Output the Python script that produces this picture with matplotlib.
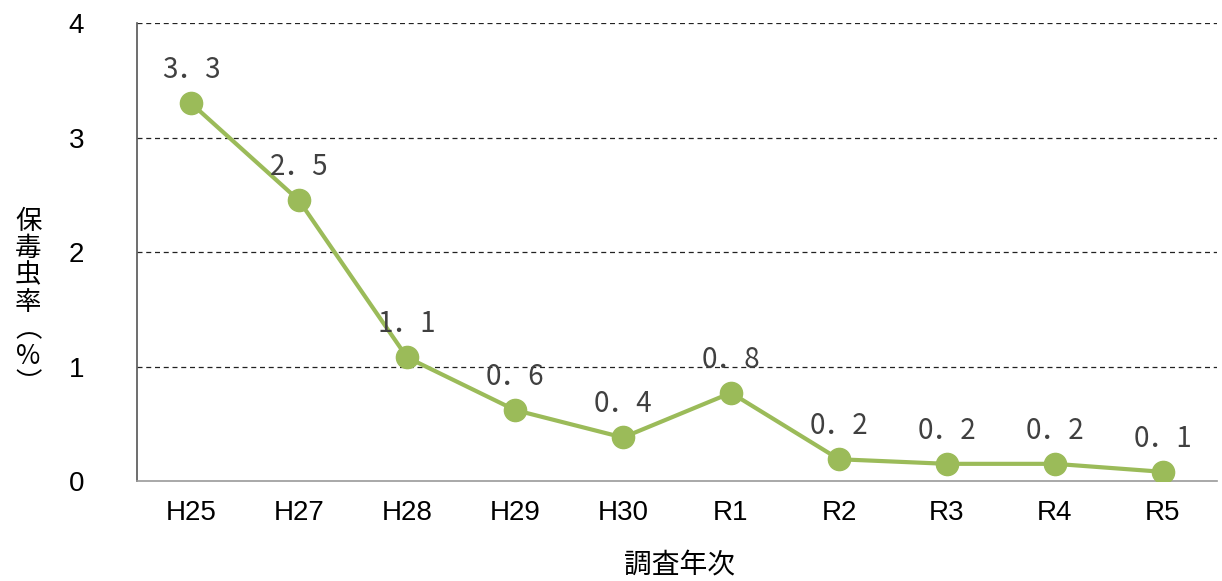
import matplotlib
matplotlib.use('Agg')
import matplotlib.pyplot as plt

# survey years and rates (%)
years = ['H25', 'H27', 'H28', 'H29', 'H30', 'R1', 'R2', 'R3', 'R4', 'R5']
rates = [3.30, 2.45, 1.08, 0.62, 0.38, 0.77, 0.19, 0.15, 0.15, 0.08]
point_labels = ['3．3', '2．5', '1．1', '0．6', '0．4', '0．8', '0．2', '0．2', '0．2', '0．1']
y_ticks = [0, 1, 2, 3, 4]

plt.rcParams['font.family'] = ['Liberation Sans', 'Noto Sans CJK JP', 'DejaVu Sans']
cjk = ['Noto Sans CJK JP', 'DejaVu Sans']

fig = plt.figure(figsize=(12.22, 5.81), dpi=100)
ax = fig.add_axes([0.1121, 0.1721, 0.8838, 0.7883])

x = list(range(len(years)))
ax.plot(x, rates, color='#9BBB59', lw=3, marker='o', markersize=16, zorder=3)

for xi, v, lab in zip(x, rates, point_labels):
    ax.annotate(lab, (xi, v), xytext=(0, 24), textcoords='offset points',
                ha='center', va='center', fontsize=20, color='#404040',
                family=cjk)

ax.set_xlim(-0.5, len(years) - 0.5)
ax.set_ylim(0, 4)
ax.set_yticks(y_ticks)
ax.set_xticks(x)
ax.set_xticklabels(years)
ax.tick_params(axis='both', length=0, labelsize=20, colors='black')
ax.tick_params(axis='y', pad=38)
ax.tick_params(axis='x', pad=14)

for g in y_ticks[1:]:
    ax.axhline(g, color='#222222', lw=0.9, ls=(0, (4, 3)), zorder=1)

for s in ['top', 'right']:
    ax.spines[s].set_visible(False)
ax.spines['left'].set_color('#555555')
ax.spines['bottom'].set_color('#999999')
ax.spines['left'].set_linewidth(1.2)
ax.spines['bottom'].set_linewidth(1.2)

fig.text(0.023, 0.48, '保\n毒\n虫\n率\n︵\n%\n︶', ha='center', va='center',
         fontsize=19, linespacing=1.0, family=cjk)
fig.text(0.556, 0.028, '調査年次', ha='center', va='center', fontsize=20,
         family=cjk)

plt.savefig('out.png', dpi=100, facecolor='white')
